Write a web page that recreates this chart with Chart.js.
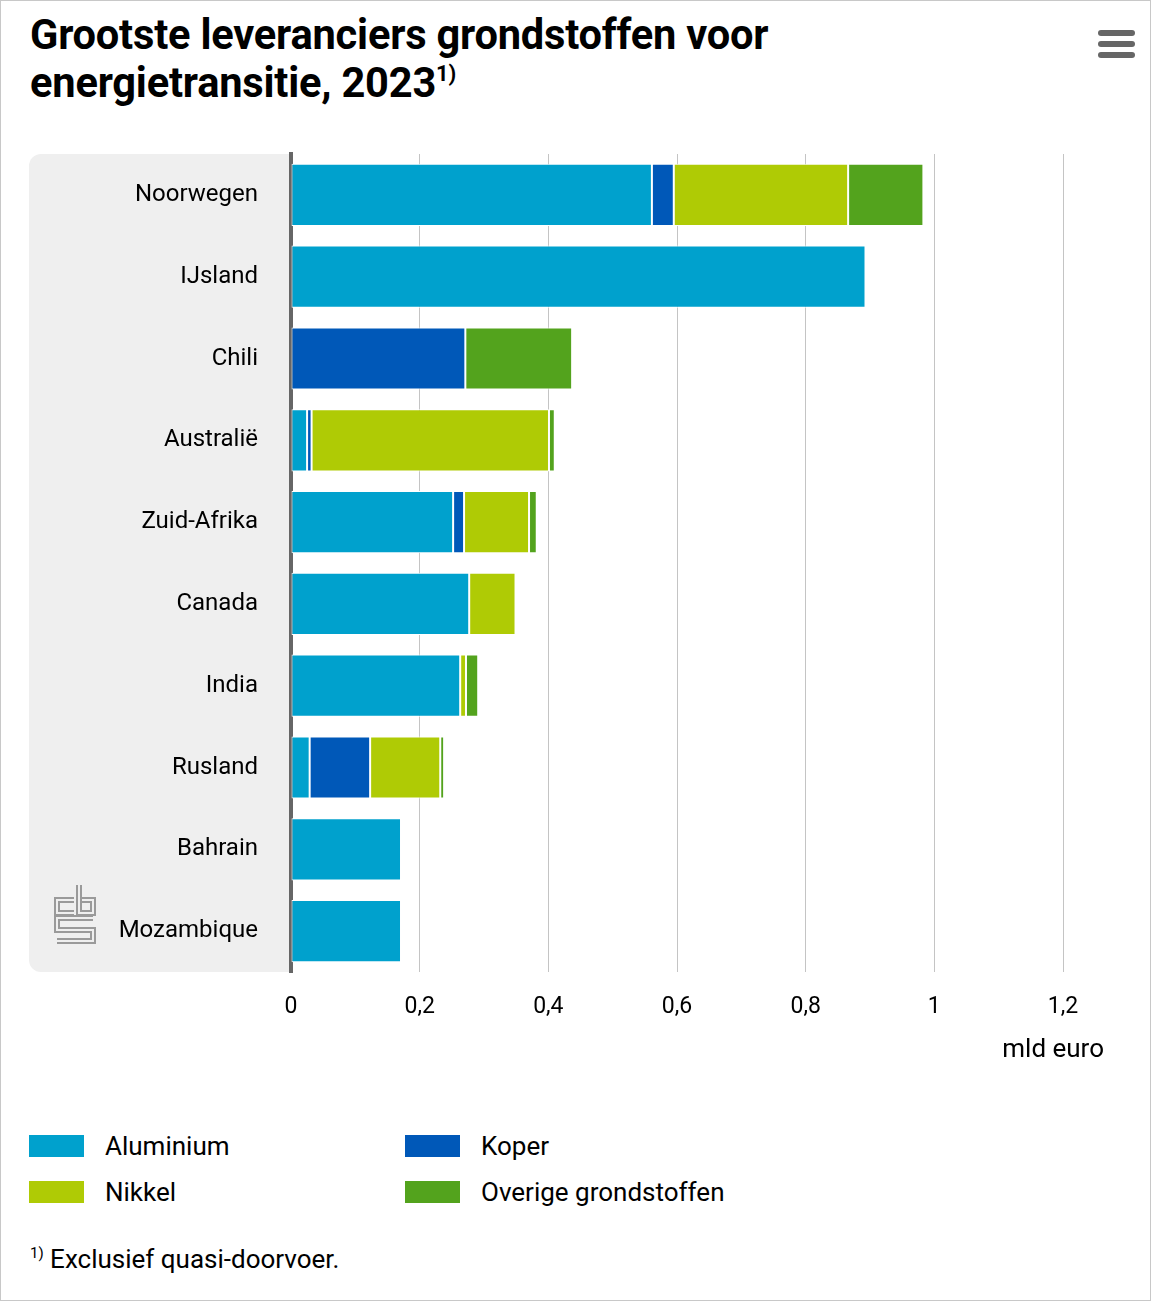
<!DOCTYPE html>
<html lang="nl">
<head>
<meta charset="utf-8">
<script src="https://cdn.jsdelivr.net/npm/chart.js@4"></script>
<style>
  body { margin: 0; background: #fff; }
  #wrap {
    position: relative; width: 1151px; height: 1301px; box-sizing: border-box;
    border: 1px solid #c8c8c8; font-family: 'Roboto', sans-serif; color: #000;
    overflow: hidden;
  }
  h1 {
    position: absolute; left: 29px; top: 10px; margin: 0; width: 1000px;
    font-size: 41.6px; line-height: 48px; font-weight: bold; letter-spacing: -0.2px;
  }
  h1 sup { font-size: 22px; vertical-align: 16px; line-height: 0; }
  .menu { position: absolute; left: 1097px; width: 37px; height: 6px; border-radius: 3px; background: #666; }
  #box { position: absolute; left: 0; top: 140px; width: 1151px; height: 940px; }
  .lg { position: absolute; font-size: 26px; line-height: 30px; }
  .sw { position: absolute; width: 55px; height: 22px; }
  #note { position: absolute; left: 29px; top: 1243px; font-size: 26px; line-height: 30px; }
  #note sup { font-size: 15px; vertical-align: 10px; line-height: 0; }
</style>
</head>
<body>
<div id="wrap">
  <h1>Grootste leveranciers grondstoffen voor<br>energietransitie, 2023<sup>1)</sup></h1>
  <div class="menu" style="top:29px"></div>
  <div class="menu" style="top:40px"></div>
  <div class="menu" style="top:51px"></div>
  <div id="box"><canvas id="chart"></canvas></div>
  <div id="legend"></div>
  <div id="note"><sup>1)</sup> Exclusief quasi-doorvoer.</div>
</div>
<script>
const landen = ['Noorwegen', 'IJsland', 'Chili', 'Australië', 'Zuid-Afrika', 'Canada', 'India', 'Rusland', 'Bahrain', 'Mozambique'];
const aluminium = [0.561, 0.893, 0, 0.025, 0.252, 0.277, 0.263, 0.029, 0.171, 0.171];
const koper = [0.034, 0, 0.271, 0.007, 0.017, 0, 0, 0.094, 0, 0];
const nikkel = [0.271, 0, 0, 0.369, 0.101, 0.072, 0.009, 0.109, 0, 0];
const overige = [0.117, 0, 0.166, 0.009, 0.012, 0, 0.019, 0.006, 0, 0];
const reeksen = ['Aluminium', 'Koper', 'Nikkel', 'Overige grondstoffen'];
const kleuren = ['#00a1cd', '#0058b8', '#afcb05', '#53a31d'];
const asTitel = 'mld euro';

const font = "'Roboto', sans-serif";
Chart.defaults.font.family = font;
Chart.defaults.color = '#000';

// canvas begint op y=140 in de pagina
const top0 = 140;

function drawLogo(ctx) {
  const paths = [
    [[73, 899], [56, 899], [56, 912], [73, 912]],
    [[78, 884], [78, 912], [92, 912], [92, 899], [81, 899]],
    [[92, 917], [56, 917], [56, 929], [92, 929], [92, 940], [56, 940]],
  ];
  ctx.save();
  ctx.translate(0, -top0);
  ctx.lineJoin = 'miter';
  [[6, '#9a9a9a'], [2, '#efefef']].forEach(([w, c]) => {
    ctx.lineWidth = w;
    ctx.strokeStyle = c;
    paths.forEach((p) => {
      ctx.beginPath();
      p.forEach(([x, y], i) => (i ? ctx.lineTo(x, y) : ctx.moveTo(x, y)));
      ctx.stroke();
    });
  });
  ctx.restore();
}

const panel = {
  id: 'panel',
  beforeDraw(chart) {
    const { ctx, chartArea } = chart;
    ctx.save();
    ctx.fillStyle = '#efefef';
    ctx.beginPath();
    ctx.roundRect(28, chartArea.top, chartArea.left - 28, chartArea.bottom - chartArea.top, [12, 0, 0, 12]);
    ctx.fill();
    ctx.restore();
    drawLogo(ctx);
  },
  afterDraw(chart) {
    const { ctx } = chart;
    ctx.save();
    ctx.font = '26px ' + font;
    ctx.fillStyle = '#000';
    ctx.textAlign = 'right';
    ctx.textBaseline = 'middle';
    ctx.fillText(asTitel, 1103, 1049 - top0);
    ctx.restore();
  },
};

const waarden = [aluminium, koper, nikkel, overige];

new Chart(document.getElementById('chart'), {
  type: 'bar',
  data: {
    labels: landen,
    datasets: reeksen.map((naam, i) => ({
      label: naam,
      data: waarden[i],
      backgroundColor: kleuren[i],
      borderColor: '#fff',
      borderWidth: 1,
      borderSkipped: false,
      barPercentage: 0.76,
      categoryPercentage: 1,
    })),
  },
  options: {
    indexAxis: 'y',
    responsive: true,
    maintainAspectRatio: false,
    animation: false,
    layout: { padding: { top: 13, right: 89, left: 0, bottom: 0 } },
    plugins: { legend: { display: false }, tooltip: { enabled: false } },
    scales: {
      x: {
        stacked: true,
        min: 0,
        max: 1.2,
        afterFit: (s) => { s.height = 109; },
        ticks: {
          stepSize: 0.2,
          padding: 21,
          font: { size: 23 },
          color: '#000',
          callback: (v) => String(Math.round(v * 10) / 10).replace('.', ','),
        },
        grid: { color: '#c4c4c4', drawTicks: false },
        border: { display: false },
      },
      y: {
        stacked: true,
        afterFit: (s) => {
          s.width = 290;
          s.paddingTop = 0;
          s.paddingBottom = 0;
        },
        ticks: { padding: 33, font: { size: 24 }, color: '#000' },
        grid: { display: false, drawTicks: false },
        border: { display: true, color: '#666', width: 4 },
      },
    },
  },
  plugins: [panel],
});

// legenda in twee kolommen
const legend = document.getElementById('legend');
const pos = [[28, 1134], [404, 1134], [28, 1180], [404, 1180]];
reeksen.forEach((naam, i) => {
  const [x, y] = pos[i];
  legend.insertAdjacentHTML('beforeend',
    `<div class="sw" style="left:${x}px;top:${y}px;background:${kleuren[i]}"></div>` +
    `<div class="lg" style="left:${x + 76}px;top:${y - 4}px">${naam}</div>`);
});
</script>
</body>
</html>
